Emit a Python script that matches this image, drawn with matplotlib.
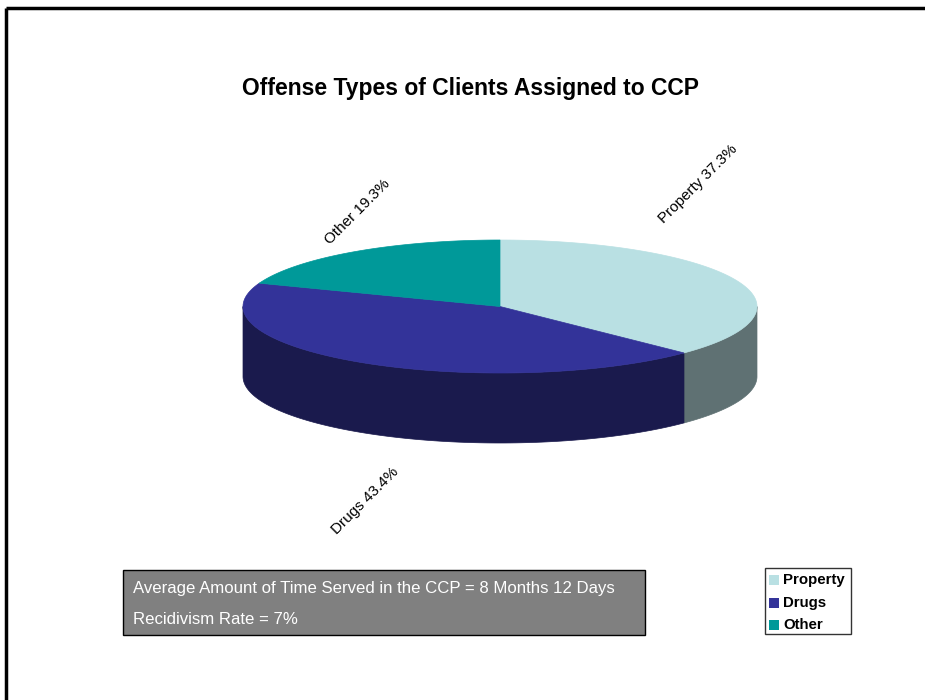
import numpy as np
import matplotlib
matplotlib.use("Agg")
import matplotlib.pyplot as plt
from matplotlib.patches import Polygon, Rectangle

plt.rcParams['font.family'] = ['Liberation Sans', 'DejaVu Sans']

categories = ["Property", "Drugs", "Other"]
values = [37.3, 43.4, 19.3]
top_colors = ["#B9E0E3", "#333399", "#009999"]
side_colors = ["#5F7173", "#1A1A4D", "#004D4D"]
title = "Offense Types of Clients Assigned to CCP"
note_lines = ["Average Amount of Time Served in the CCP = 8 Months 12 Days",
              "Recidivism Rate = 7%"]

W, H = 925, 700
fig = plt.figure(figsize=(W / 100, H / 100), dpi=100)
ax = fig.add_axes([0, 0, 1, 1])
ax.set_xlim(0, W)
ax.set_ylim(H, 0)
ax.axis("off")

# frame (top and left edges visible)
ax.plot([6, W], [8, 8], color="black", lw=2.5, solid_capstyle="butt")
ax.plot([6, 6], [8, H], color="black", lw=2.5, solid_capstyle="butt")

# pie geometry (pixel units)
cx, cy, rx, ry, depth = 500, 306.5, 257, 66.5, 70


def pt(theta_deg, dy=0.0):
    t = np.radians(theta_deg)
    return cx + rx * np.cos(t), cy - ry * np.sin(t) + dy


# angles: start at 12 o'clock, clockwise
fracs = np.array(values) / np.sum(values)
starts = 90 - np.concatenate([[0], np.cumsum(fracs)[:-1]]) * 360
ends = starts - fracs * 360

# side walls (front half only: theta in [-180, 0])
for s, e, c in zip(starts, ends, side_colors):
    a1 = min(s, 0)
    a2 = max(e, -180)
    if a1 > a2:
        th = np.linspace(a1, a2, 120)
        top = [pt(t) for t in th]
        bot = [pt(t, depth) for t in th[::-1]]
        ax.add_patch(Polygon(top + bot, closed=True, facecolor=c,
                             edgecolor=c, lw=0.5, zorder=2))

# top faces
for s, e, c in zip(starts, ends, top_colors):
    th = np.linspace(s, e, 200)
    poly = [(cx, cy)] + [pt(t) for t in th]
    ax.add_patch(Polygon(poly, closed=True, facecolor=c, edgecolor=c,
                         lw=0.5, zorder=3))

# data labels
label_pos = [(698, 184), (365, 501), (357, 212)]
for cat, v, (lx, ly) in zip(categories, values, label_pos):
    ax.text(lx, ly, f"{cat} {v:.1f}%", rotation=45, ha="center",
            va="center", fontsize=11, color="black", rotation_mode="anchor")

# title
ax.text(471, 88, title, ha="center", va="center", fontsize=16.5,
        fontweight="bold", color="black")

# note box
ax.add_patch(Rectangle((123, 570), 522, 65, facecolor="#808080",
                       edgecolor="black", lw=1, zorder=4))
ax.text(133, 588, note_lines[0], ha="left", va="center", fontsize=12.1,
        color="white", zorder=5)
ax.text(133, 620, note_lines[1], ha="left", va="center", fontsize=12.1,
        color="white", zorder=5)

# legend
ax.add_patch(Rectangle((765, 568), 86, 66, facecolor="white",
                       edgecolor="#333333", lw=1, zorder=4))
for i, (cat, c) in enumerate(zip(categories, top_colors)):
    yy = 580 + i * 22.5
    ax.add_patch(Rectangle((769, yy - 5), 10, 10, facecolor=c,
                           edgecolor="none", zorder=5))
    ax.text(783, yy, cat, ha="left", va="center", fontsize=10.8,
            fontweight="bold", color="black", zorder=5)

fig.savefig("out.png", dpi=100)
